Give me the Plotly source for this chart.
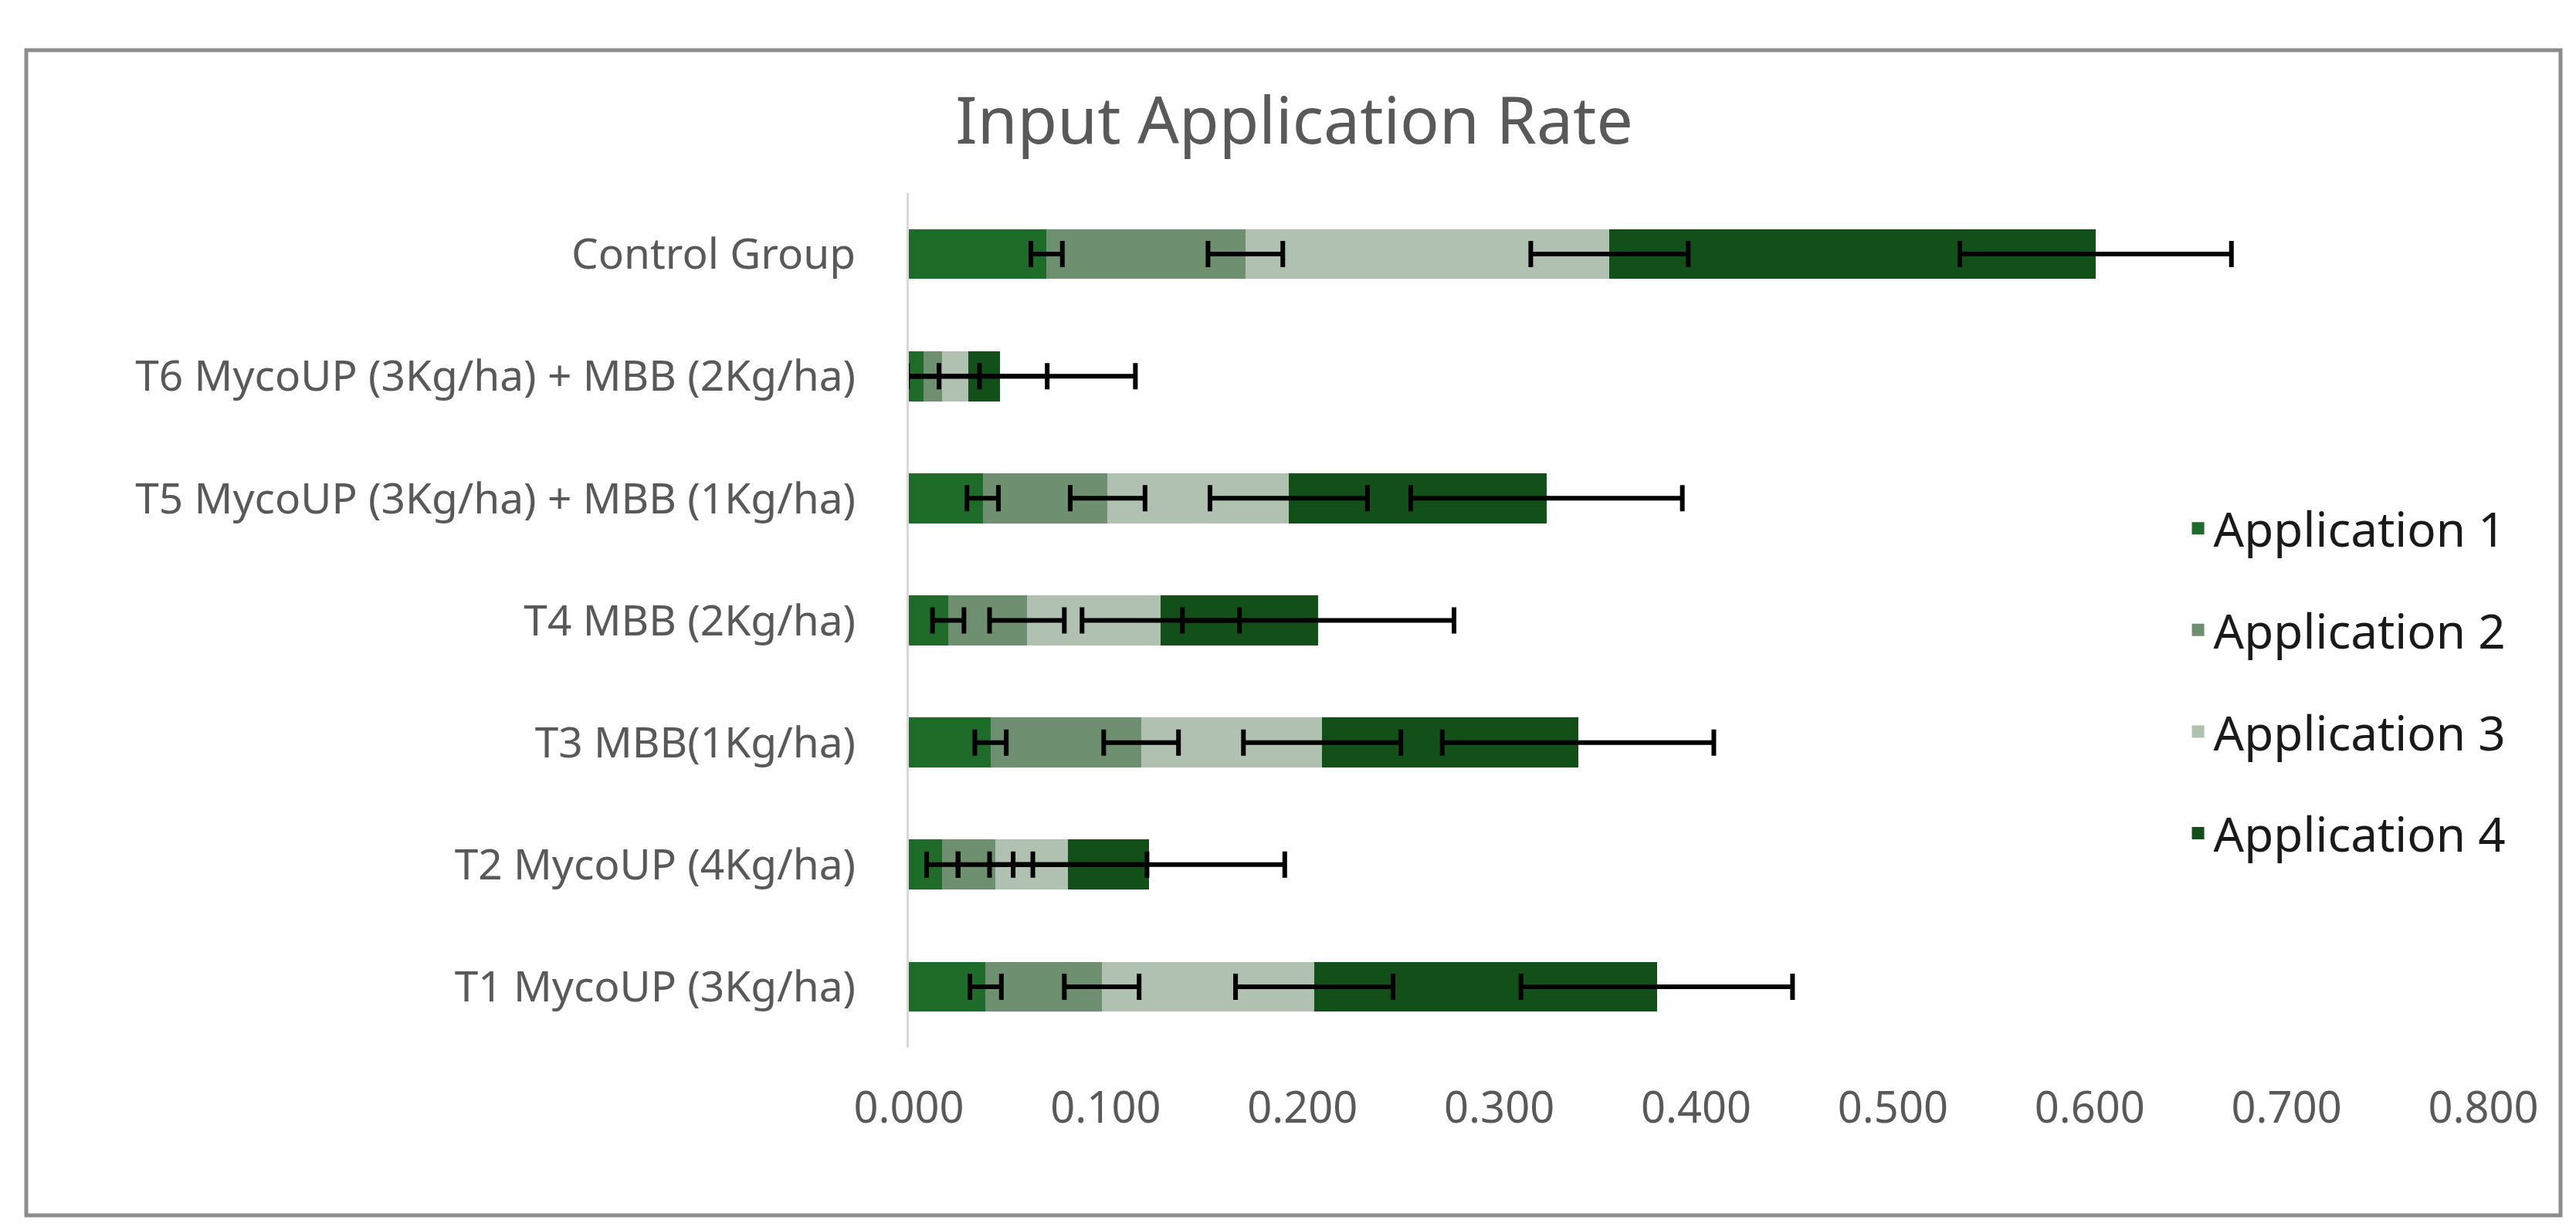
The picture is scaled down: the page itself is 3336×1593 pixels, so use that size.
import plotly.graph_objects as go

# treatments, bottom to top as drawn
tratamentos = [
    'T1 MycoUP (3Kg/ha)',
    'T2 MycoUP (4Kg/ha)',
    'T3 MBB(1Kg/ha)',
    'T4 MBB (2Kg/ha)',
    'T5 MycoUP (3Kg/ha) + MBB (1Kg/ha)',
    'T6 MycoUP (3Kg/ha) + MBB (2Kg/ha)',
    'Control Group',
]

aplicacao_1 = [0.039, 0.017, 0.0415, 0.020, 0.0375, 0.0073, 0.070]
aplicacao_2 = [0.059, 0.027, 0.0765, 0.040, 0.0635, 0.0096, 0.101]
aplicacao_3 = [0.108, 0.037, 0.092, 0.068, 0.092, 0.0134, 0.185]
aplicacao_4 = [0.174, 0.041, 0.130, 0.080, 0.131, 0.0158, 0.247]

# one error value per series (same for every treatment)
erro_aplicacao = [0.008, 0.019, 0.040, 0.069]

nomes_series = ['Application 1', 'Application 2', 'Application 3', 'Application 4']
cores_series = ['#1E6B2A', '#6E9070', '#B1C1B1', '#135019']

x_ticks = [0.0, 0.1, 0.2, 0.3, 0.4, 0.5, 0.6, 0.7, 0.8]

fig = go.Figure()

series = [aplicacao_1, aplicacao_2, aplicacao_3, aplicacao_4]
for i, valores in enumerate(series):
    fig.add_trace(go.Bar(
        y=tratamentos, x=valores, orientation='h',
        name=nomes_series[i], showlegend=False,
        marker=dict(color=cores_series[i], line=dict(width=0)),
    ))

# error bars drawn on top of every bar, at the end of each stacked segment
acumulado = [0.0] * len(tratamentos)
for i, valores in enumerate(series):
    acumulado = [a + v for a, v in zip(acumulado, valores)]
    fig.add_trace(go.Scatter(
        y=tratamentos, x=acumulado, mode='markers',
        marker=dict(size=1, color='rgba(0,0,0,0)'),
        showlegend=False, hoverinfo='skip',
        error_x=dict(type='constant', value=erro_aplicacao[i],
                     color='black', thickness=6, width=17),
    ))

# legend entries with large square keys
for i, nome in enumerate(nomes_series):
    fig.add_trace(go.Scatter(
        x=[None], y=[None], mode='markers', name=nome,
        legendgroup=nome,
        marker=dict(symbol='square', size=36, color=cores_series[i]),
    ))

fig.update_layout(
    width=3336, height=1593,
    barmode='stack', bargap=0.59,
    plot_bgcolor='white', paper_bgcolor='white',
    margin=dict(l=1169, r=128, t=242, b=244),
    font=dict(family='Noto Sans', color='#595959'),
    title=dict(text='Input Application Rate', x=0.5, xref='container',
               y=1 - 149 / 1593, yanchor='middle', xanchor='center',
               font=dict(size=84, color='#595959')),
    legend=dict(x=0.809, y=0.650, xanchor='left', yanchor='top',
                font=dict(size=62, color='#1a1a1a'),
                tracegroupgap=48, traceorder='grouped',
                itemsizing='trace',
                bgcolor='rgba(0,0,0,0)'),
    showlegend=True,
)

fig.update_xaxes(range=[0, 0.8], tickvals=x_ticks, tickformat='.3f',
                 showgrid=False, zeroline=False, showline=False,
                 tickfont=dict(size=56, color='#595959'),
                 ticklabelstandoff=40)
fig.update_yaxes(categoryorder='array', categoryarray=tratamentos,
                 showgrid=False, showline=True, linecolor='#D9D9D9',
                 linewidth=3, ticks='',
                 tickfont=dict(size=55, color='#595959'),
                 ticklabelstandoff=55)

# outer chart frame
fig.add_shape(type='rect', xref='paper', yref='paper',
              x0=(26 - 1169) / 2039, x1=(3308 - 1169) / 2039,
              y0=(1349 - 1566) / 1107, y1=(1349 - 57) / 1107,
              line=dict(color='#8C8C8C', width=5), layer='below')

fig.write_html("out.html")
